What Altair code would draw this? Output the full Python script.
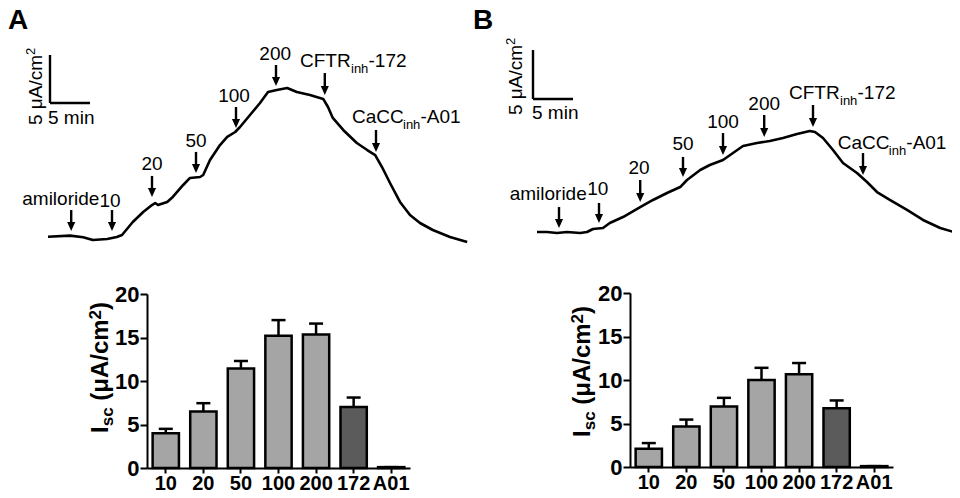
import altair as alt
import pandas as pd

FONT = "Liberation Sans"

# ---------------- Panel A: Isc trace (time in min, Isc in uA/cm2) ----------------
A_T = [0, 2.75, 4.4, 5.6, 7.4, 8.6, 9.25, 10.6, 11.9, 13.0, 13.4, 13.75, 14.9, 15.6, 16.9,
       17.75, 19.0, 19.4, 20.25, 21.5, 22.4, 23.4, 24.0, 25.25, 26.5, 27.5, 28.6, 29.9, 31.1,
       32.75, 34.4, 35.0, 35.6, 36.9, 38.6, 39.9, 40.9, 41.75, 42.75, 44.0, 45.25, 46.5, 48.1,
       50.25, 52.4]
A_I = [0.55, 0.66, 0.49, 0.21, 0.31, 0.52, 0.73, 2.08, 3.13, 3.85, 4.06, 3.85, 4.17, 4.69, 5.94,
       6.67, 6.77, 6.98, 8.54, 10.1, 10.94, 11.46, 11.98, 13.23, 14.48, 15.63, 15.83, 16.04, 15.63,
       15.31, 14.9, 14.06, 12.92, 11.67, 10.31, 9.58, 9.06, 7.81, 6.15, 4.17, 2.81, 1.98, 1.25,
       0.52, 0.0]
A_ARROW_T = [2.9, 8.0, 13.0, 18.5, 23.5, 28.5, 34.6, 41.0]
A_ARROW_TOP = [3.33, 3.33, 6.88, 9.38, 14.06, 18.44, 17.6, 11.67]
A_ARROW_TIP = [1.15, 1.15, 4.69, 7.19, 11.88, 16.25, 15.31, 9.38]
A_LAB_T = [1.6, 7.75, 13.0, 18.5, 23.25, 28.4]
A_LAB_I = [3.85, 3.65, 7.5, 9.9, 14.58, 18.96]
A_INH_T = [31.5, 38.0]
A_INH_I = [18.23, 12.4]
A_SCALE_T = 0.25
A_SCALE_I = 14.48
A_MIN_POS = (0.0, 12.29)
A_UA_POS = (-0.75, 12.19)

# ---------------- Panel B: Isc trace ----------------
B_T = [0, 1.25, 2.5, 3.75, 5.4, 6.25, 7.0, 8.25, 9.1, 10.75, 12.9, 14.5, 16.25, 17.9, 18.75,
       20.4, 21.6, 23.25, 24.5, 25.75, 27.5, 29.1, 30.75, 32.5, 34.1, 34.75, 35.75, 37.0, 38.25,
       40.0, 41.25, 42.5, 44.1, 46.25, 48.25, 50.4, 52.5]
B_I = [0.10, 0.10, 0.0, 0.10, 0.0, 0.10, 0.41, 0.51, 1.02, 1.63, 2.65, 3.37, 4.08, 4.69, 5.41,
       6.43, 6.94, 7.45, 8.16, 8.88, 9.18, 9.39, 9.69, 10.1, 10.41, 10.31, 9.69, 8.47, 7.14,
       6.12, 5.20, 4.18, 3.37, 2.35, 1.33, 0.51, 0.0]
B_ARROW_T = [2.75, 7.75, 12.9, 18.25, 23.25, 28.4, 34.5, 40.75]
B_ARROW_TOP = [2.65, 3.06, 5.41, 7.76, 10.2, 12.04, 13.06, 8.16]
B_ARROW_TIP = [0.51, 1.02, 3.16, 5.71, 7.96, 9.80, 10.82, 5.92]
B_LAB_T = [1.4, 7.6, 12.75, 18.25, 23.25, 28.4]
B_LAB_I = [3.37, 3.88, 6.02, 8.47, 10.71, 12.55]
B_INH_T = [31.5, 37.6]
B_INH_I = [13.67, 8.57]
B_SCALE_T = -0.5
B_SCALE_I = 13.67
B_MIN_POS = (-0.625, 11.63)
B_UA_POS = (-1.875, 12.04)

# shared annotation texts
LABELS = ["amiloride", "10", "20", "50", "100", "200"]
INH_MAIN = ["CFTR", "CaCC"]
INH_SUB = ["inh", "inh"]
INH_SUF = ["-172", "-A01"]
SCALE_MIN = 5
SCALE_UA = 5

# ---------------- bar charts ----------------
CATS = ["10", "20", "50", "100", "200", "172", "A01"]
A_MEAN = [4.0, 6.5, 11.45, 15.2, 15.35, 7.0, 0.1]
A_UPPER = [4.5, 7.45, 12.3, 17.0, 16.6, 8.1, 0.1]
B_MEAN = [2.1, 4.65, 6.95, 10.0, 10.65, 6.75, 0.1]
B_UPPER = [2.75, 5.45, 7.95, 11.4, 11.95, 7.65, 0.1]

W, H = 944, 482


def trace_panel(T, V, at, atop, atip, lt, lv, it, iv, st, sv, minpos, uapos, xr, yr):
    xs = alt.Scale(domain=[0, 50], range=xr, nice=False, zero=False)
    ys = alt.Scale(domain=[0, 10], range=yr, nice=False, zero=False)

    def X(f):
        return alt.X(f, type="quantitative", scale=xs, axis=None)

    def Y(f):
        return alt.Y(f, type="quantitative", scale=ys, axis=None)

    trace = pd.DataFrame({"t": T, "v": V, "k": list(range(len(T)))})
    line = alt.Chart(trace).mark_line(color="black", strokeWidth=2.6, strokeJoin="round").encode(
        x=X("t"), y=Y("v"), order="k:Q")

    arr = pd.DataFrame({"t": at, "top": atop, "tip": atip})
    shaft = alt.Chart(arr).mark_rule(color="black", strokeWidth=2.4, y2Offset=-5).encode(
        x=X("t"), y=Y("top"), y2="tip:Q")
    head = alt.Chart(arr).mark_point(shape="M-0.45,-1L0.45,-1L0,0Z", size=324, filled=True,
                                     opacity=1, color="black").encode(x=X("t"), y=Y("tip"))

    lab = pd.DataFrame({"t": lt, "v": lv, "lab": LABELS})
    labels = alt.Chart(lab).mark_text(font=FONT, fontSize=19, align="center", baseline="alphabetic",
                                      color="black").encode(x=X("t"), y=Y("v"), text="lab:N")

    inh = pd.DataFrame({"t": it, "v": iv, "main": INH_MAIN, "sub": INH_SUB, "suf": INH_SUF})
    base_txt = dict(font=FONT, align="left", baseline="alphabetic", color="black")
    inh_main = alt.Chart(inh).mark_text(fontSize=19, **base_txt).encode(x=X("t"), y=Y("v"), text="main:N")
    inh_sub = alt.Chart(inh).mark_text(fontSize=13, dx=51, dy=6, **base_txt).encode(
        x=X("t"), y=Y("v"), text="sub:N")
    inh_suf = alt.Chart(inh).mark_text(fontSize=19, dx=68.5, **base_txt).encode(
        x=X("t"), y=Y("v"), text="suf:N")

    sb = pd.DataFrame({"x1": [st, st], "x2": [st, st + SCALE_MIN],
                       "y1": [sv, sv], "y2": [sv + SCALE_UA, sv]})
    scalebar = alt.Chart(sb).mark_rule(color="black", strokeWidth=2.4).encode(
        x=X("x1"), x2="x2:Q", y=Y("y1"), y2="y2:Q")

    mn = pd.DataFrame({"t": [minpos[0]], "v": [minpos[1]], "s": ["5 min"]})
    min_txt = alt.Chart(mn).mark_text(fontSize=19, **base_txt).encode(x=X("t"), y=Y("v"), text="s:N")
    ua = pd.DataFrame({"t": [uapos[0]], "v": [uapos[1]], "s": ["5 μA/cm"], "p": ["2"]})
    ua_txt = alt.Chart(ua).mark_text(fontSize=19, angle=270, **base_txt).encode(
        x=X("t"), y=Y("v"), text="s:N")
    ua_sup = alt.Chart(ua).mark_text(fontSize=13, angle=270, dx=70, dy=-7, **base_txt).encode(
        x=X("t"), y=Y("v"), text="p:N")

    return alt.layer(line, shaft, head, labels, inh_main, inh_sub, inh_suf, scalebar,
                     min_txt, ua_txt, ua_sup)


def bar_panel(mean, upper, xr, yr, y_off, x_off, title_pos):
    df = pd.DataFrame({"cat": CATS, "mean": mean, "upper": upper})
    xs = alt.Scale(domain=CATS, range=xr, paddingInner=0.3, paddingOuter=0.15)
    ys = alt.Scale(domain=[0, 20], range=yr, nice=False, zero=True)
    common = dict(labelFont=FONT, labelFontWeight="bold", labelColor="black",
                  tickColor="black", tickWidth=2, domainColor="black", domainWidth=2,
                  grid=False, title=None)
    x = alt.X("cat:N", scale=xs, sort=CATS,
              axis=alt.Axis(orient="bottom", offset=x_off, labelAngle=0, labelPadding=0,
                            labelFontSize=20, tickSize=5, labelOverlap=False, **common))
    yax = alt.Axis(orient="left", offset=y_off, values=[0, 5, 10, 15, 20], labelPadding=1,
                   labelFontSize=22, tickSize=7, **common)
    bars = alt.Chart(df).mark_bar(stroke="black", strokeWidth=2.5).encode(
        x=x, y=alt.Y("mean:Q", scale=ys, axis=yax),
        fill=alt.condition(alt.datum.cat == "172", alt.value("#5b5b5b"), alt.value("#a5a5a5")))
    err = alt.Chart(df).mark_rule(color="black", strokeWidth=2.5).encode(
        x=x, y=alt.Y("mean:Q", scale=ys, axis=yax), y2="upper:Q")
    cap = alt.Chart(df).mark_tick(color="black", orient="horizontal", size=14, thickness=2.5,
                                  opacity=1).encode(x=x, y=alt.Y("upper:Q", scale=ys, axis=yax))

    one = pd.DataFrame({"k": [0]})
    px, py = title_pos
    pieces = [("I", 0, 0, 24), ("sc", 6.7, 5, 17), ("(μA/cm", 32.3, 0, 24),
              ("2", 113.6, -7, 17), (")", 123.1, 0, 24)]
    tl = []
    for txt, dx, dy, fs in pieces:
        tl.append(alt.Chart(one).mark_text(text=txt, font=FONT, fontWeight="bold", fontSize=fs,
                                           angle=270, align="left", baseline="alphabetic",
                                           dx=dx, dy=dy, color="black").encode(
            x=alt.value(px), y=alt.value(py)))
    return alt.layer(bars, err, cap, *tl)


trace_a = trace_panel(A_T, A_I, A_ARROW_T, A_ARROW_TOP, A_ARROW_TIP, A_LAB_T, A_LAB_I, A_INH_T, A_INH_I,
                      A_SCALE_T, A_SCALE_I, A_MIN_POS, A_UA_POS, [40, 440], [234, 138])
trace_b = trace_panel(B_T, B_I, B_ARROW_T, B_ARROW_TOP, B_ARROW_TIP, B_LAB_T, B_LAB_I, B_INH_T, B_INH_I,
                      B_SCALE_T, B_SCALE_I, B_MIN_POS, B_UA_POS, [529, 929], [225, 127])
bars_a = bar_panel(A_MEAN, A_UPPER, [139, 402], [460, 286], -139, 460 - H, (100, 425))
bars_b = bar_panel(B_MEAN, B_UPPER, [622, 885], [459, 285], -622, 459 - H, (582, 429))

one = pd.DataFrame({"k": [0]})
letter_a = alt.Chart(one).mark_text(text="A", font=FONT, fontWeight="bold", fontSize=28, align="left",
                                    baseline="alphabetic", color="black").encode(
    x=alt.value(0), y=alt.value(21))
letter_b = alt.Chart(one).mark_text(text="B", font=FONT, fontWeight="bold", fontSize=28, align="left",
                                    baseline="alphabetic", color="black").encode(
    x=alt.value(465), y=alt.value(21))

chart = alt.layer(trace_a, bars_a, trace_b, bars_b, letter_a, letter_b).resolve_scale(
    x="independent", y="independent"
).properties(
    width=W, height=H, padding=0, autosize=alt.AutoSizeParams(type="none")
).configure(background="white").configure_view(stroke=None)

chart.save("out.html", embed_options={"renderer": "svg", "actions": False})
